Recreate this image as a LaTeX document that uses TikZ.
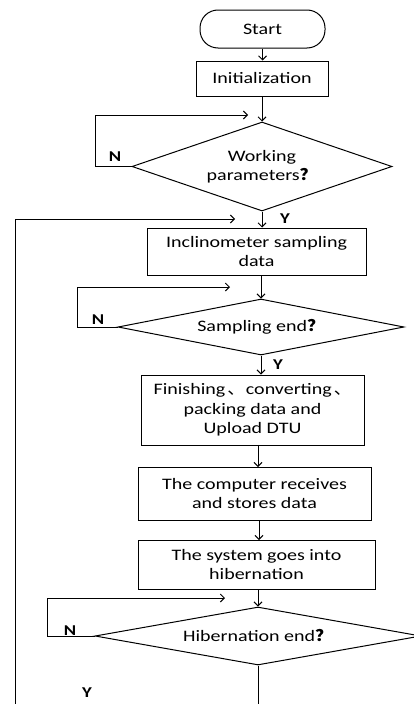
\documentclass[tikz,border=0pt]{standalone}
\usepackage{fontspec}
\setmainfont{Carlito}[FakeStretch=1.25]
\newfontfamily\cjk{Noto Sans CJK SC}[FakeStretch=1.1]
\usetikzlibrary{shapes.geometric,arrows.meta}
\newcommand{\qm}{{\cjk\bfseries ？}}
\newcommand{\dun}{{\cjk 、}}
\begin{document}
\begin{tikzpicture}[x=1pt,y=-1pt,
  every node/.style={font=\fontsize{16pt}{19.5pt}\selectfont, inner sep=0pt},
  box/.style={draw, line width=1pt, align=center},
  dec/.style={draw, line width=1pt, shape=diamond, align=center},
  lab/.style={font=\fontsize{15pt}{18pt}\selectfont\bfseries},
  line/.style={line width=1pt},
  arr/.style={line width=1pt, -{Straight Barb[length=4pt,width=8pt]}}]
\useasboundingbox (0,0) rectangle (414,704);
% nodes
\node[box, rounded corners=18pt, minimum width=125pt, minimum height=38pt] (start) at (262.5,29) {Start};
\node[box, minimum width=132pt, minimum height=35pt] (init) at (262,78.5) {Initialization};
\node[dec, aspect=2.92, minimum width=260pt, minimum height=89pt] (d1) at (262,166.5) {Working\\parameters\qm};
\node[box, minimum width=219pt, minimum height=47pt] (incl) at (256.5,251.5) {Inclinometer sampling\\data};
\node[dec, aspect=5.1, minimum width=286pt, minimum height=56pt] (d2) at (261,327) {Sampling end\qm};
\node[box, minimum width=223pt, minimum height=70pt] (fin) at (252.5,410) {Finishing\kern2pt\dun\kern1pt converting\kern2pt\dun\\packing data and\\Upload DTU};
\node[box, minimum width=233pt, minimum height=53pt] (comp) at (254.5,493.5) {The computer receives\\and stores data};
\node[box, minimum width=237pt, minimum height=49pt] (sys) at (256.5,564.5) {The system goes into\\hibernation};
\node[dec, aspect=5.6, minimum width=326pt, minimum height=58pt] (d3) at (258,636) {Hibernation end\qm};
% labels
\node[lab] (n1) at (115,157) {N};
\node[lab] (y1) at (285,219) {Y};
\node[lab] (n2) at (98,320) {N};
\node[lab] (y2) at (278,365) {Y};
\node[lab] (n3) at (70,631) {N};
\node[lab] (y3) at (87,693) {Y};
% coordinates
\coordinate (l1a) at (95,115);
\coordinate (l1b) at (95,166.5);
\coordinate (l1t) at (248,115);
\coordinate (l2a) at (77,287);
\coordinate (l2b) at (77,327);
\coordinate (l2t) at (230,287);
\coordinate (l3a) at (47,598);
\coordinate (l3b) at (47,636);
\coordinate (l3t) at (225,598);
\coordinate (bigtop) at (15,219);
\coordinate (bigbot) at (15,704);
\coordinate (bigt) at (235,219);
\coordinate (d3end) at (258,704);
% main flow
\draw[arr] (start.south) -- (start.south |- init.north);
\draw[arr] (init.south) -- (d1.north);
\draw[arr] (d1.south) -- (d1.south |- incl.north);
\draw[arr] (d2.north |- incl.south) -- (d2.north);
\draw[arr] (d2.south) -- (d2.south |- fin.north);
\draw[arr] (258,444.9) -- (258,467);
\draw[arr] (259,520) -- (259,540);
\draw[arr] (d3.north |- sys.south) -- (d3.north);
\draw[line] (d3.south) -- (d3end);
% loops
\draw[arr] (d1.west) -- (l1b) -- (l1a) -- (l1t);
\draw[arr] (d2.west) -- (l2b) -- (l2a) -- (l2t);
\draw[arr] (d3.west) -- (l3b) -- (l3a) -- (l3t);
\draw[arr] (bigbot) -- (bigtop) -- (bigt);
\end{tikzpicture}
\end{document}
